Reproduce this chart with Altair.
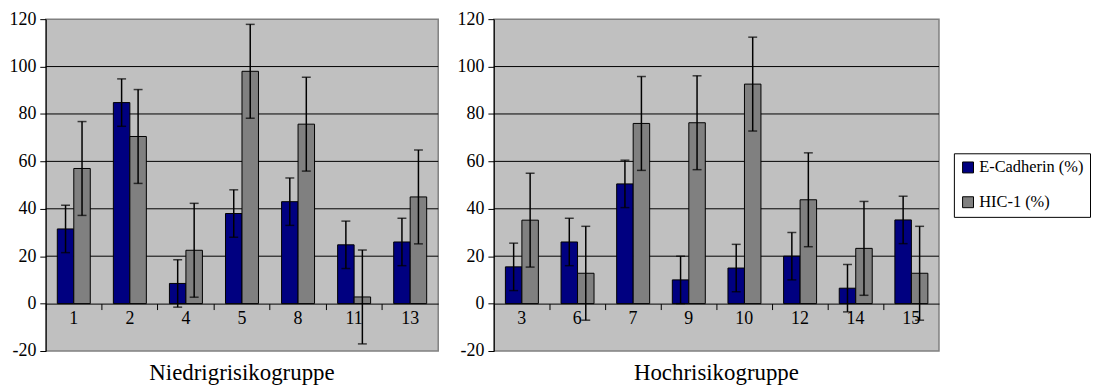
import altair as alt
import pandas as pd

# ---- data ----
series_names = ["E-Cadherin (%)", "HIC-1 (%)"]

low_cats = ["1", "2", "4", "5", "8", "11", "13"]
low_ecad = [31.5, 84.8, 8.5, 38.0, 43.0, 24.8, 26.0]
low_ecad_err = [10, 10, 10, 10, 10, 10, 10]
low_hic = [57.0, 70.5, 22.5, 98.0, 75.7, 2.8, 45.0]
low_hic_err = [19.8, 19.8, 19.8, 19.8, 19.8, 19.8, 19.8]

high_cats = ["3", "6", "7", "9", "10", "12", "14", "15"]
high_ecad = [15.5, 26.0, 50.5, 10.0, 15.0, 20.0, 6.5, 35.3]
high_ecad_err = [10, 10, 10, 10, 10, 10, 10, 10]
high_hic = [35.2, 12.8, 76.0, 76.3, 92.6, 43.8, 23.3, 12.8]
high_hic_err = [19.8, 19.8, 19.8, 19.8, 19.8, 19.8, 19.8, 19.8]

y_ticks = [-20, 0, 20, 40, 60, 80, 100, 120]
grid_vals = [20, 40, 60, 80, 100]
label_level = -6.3  # value level where category names sit

FONT = "Liberation Serif"
H = 334
ZERO_OFFSET = -H * 20 / 140


def make_df(cats, e, ee, h, he):
    rows = []
    for c, v, err in zip(cats, e, ee):
        rows.append({"cat": c, "series": series_names[0], "value": v, "lo": v - err, "hi": v + err})
    for c, v, err in zip(cats, h, he):
        rows.append({"cat": c, "series": series_names[1], "value": v, "lo": v - err, "hi": v + err})
    return pd.DataFrame(rows)


def panel(cats, e, ee, h, he, title, width):
    df = make_df(cats, e, ee, h, he)
    yscale = alt.Scale(domain=[-20, 120], nice=False, zero=False)
    xscale = alt.Scale(paddingInner=0, paddingOuter=0)
    offscale = alt.Scale(domain=series_names, paddingInner=0, paddingOuter=0.7)
    x_enc = alt.X("cat:N", sort=cats, scale=xscale,
                  axis=alt.Axis(title=None, labels=False, grid=False, domain=True,
                                domainColor="black", domainWidth=1, ticks=True,
                                tickColor="black", tickSize=6, tickWidth=1,
                                bandPosition=0, offset=ZERO_OFFSET))
    xo = alt.XOffset("series:N", sort=series_names, scale=offscale)
    y_axis = alt.Axis(values=y_ticks, title=None, grid=False, domainColor="black",
                      tickColor="black", tickSize=6, labelFont=FONT,
                      labelFontSize=18, labelColor="black", labelPadding=4,
                      labelExpr="'' + datum.value")

    grid = alt.Chart(pd.DataFrame({"g": grid_vals})).mark_rule(
        color="black", strokeWidth=1).encode(
        y=alt.Y("g:Q", scale=yscale, axis=y_axis))

    base = alt.Chart(df)
    bars = base.mark_bar(stroke="black", strokeWidth=1).encode(
        x=x_enc, xOffset=xo,
        y=alt.Y("value:Q", scale=yscale, axis=y_axis),
        color=alt.Color("series:N", sort=series_names,
                        scale=alt.Scale(domain=series_names, range=["#000080", "#808080"]),
                        legend=alt.Legend(title=None, orient="none", legendX=914, legendY=135)))
    err = base.mark_rule(color="black", strokeWidth=1.5).encode(
        x=alt.X("cat:N", sort=cats), xOffset=xo,
        y=alt.Y("lo:Q", scale=yscale), y2="hi:Q")
    cap_lo = base.mark_tick(color="black", thickness=1.5, size=9, orient="horizontal").encode(
        x=alt.X("cat:N", sort=cats), xOffset=xo, y=alt.Y("lo:Q", scale=yscale))
    cap_hi = base.mark_tick(color="black", thickness=1.5, size=9, orient="horizontal").encode(
        x=alt.X("cat:N", sort=cats), xOffset=xo, y=alt.Y("hi:Q", scale=yscale))
    labels = alt.Chart(pd.DataFrame({"cat": cats, "ly": [label_level] * len(cats)})).mark_text(
        font=FONT, fontSize=18, color="black", baseline="middle").encode(
        x=alt.X("cat:N", sort=cats), y=alt.Y("ly:Q", scale=yscale), text="cat:N")

    return alt.layer(grid, bars, err, cap_lo, cap_hi, labels).properties(
        width=width, height=H,
        title=alt.TitleParams(title, orient="bottom", font=FONT, fontSize=23,
                              fontWeight="normal", color="black", offset=2))


left = panel(low_cats, low_ecad, low_ecad_err, low_hic, low_hic_err, "Niedrigrisikogruppe", 395)
right = panel(high_cats, high_ecad, high_ecad_err, high_hic, high_hic_err, "Hochrisikogruppe", 448)

chart = alt.hconcat(left, right, spacing=16, padding=0, background="white").configure_view(
    fill="#C0C0C0", stroke="#808080", strokeWidth=1.5
).configure_axis(
    labelFont=FONT, labelFontSize=18, labelColor="black"
).configure_legend(
    fillColor="white", strokeColor="black", strokeWidth=1, padding=6,
    symbolType="square", symbolSize=121, symbolStrokeColor="black", symbolStrokeWidth=1,
    labelFont=FONT, labelFontSize=16.5, labelColor="black", rowPadding=18, labelOffset=3
)

chart.save("out.html", embed_options={"renderer": "svg", "actions": False})
